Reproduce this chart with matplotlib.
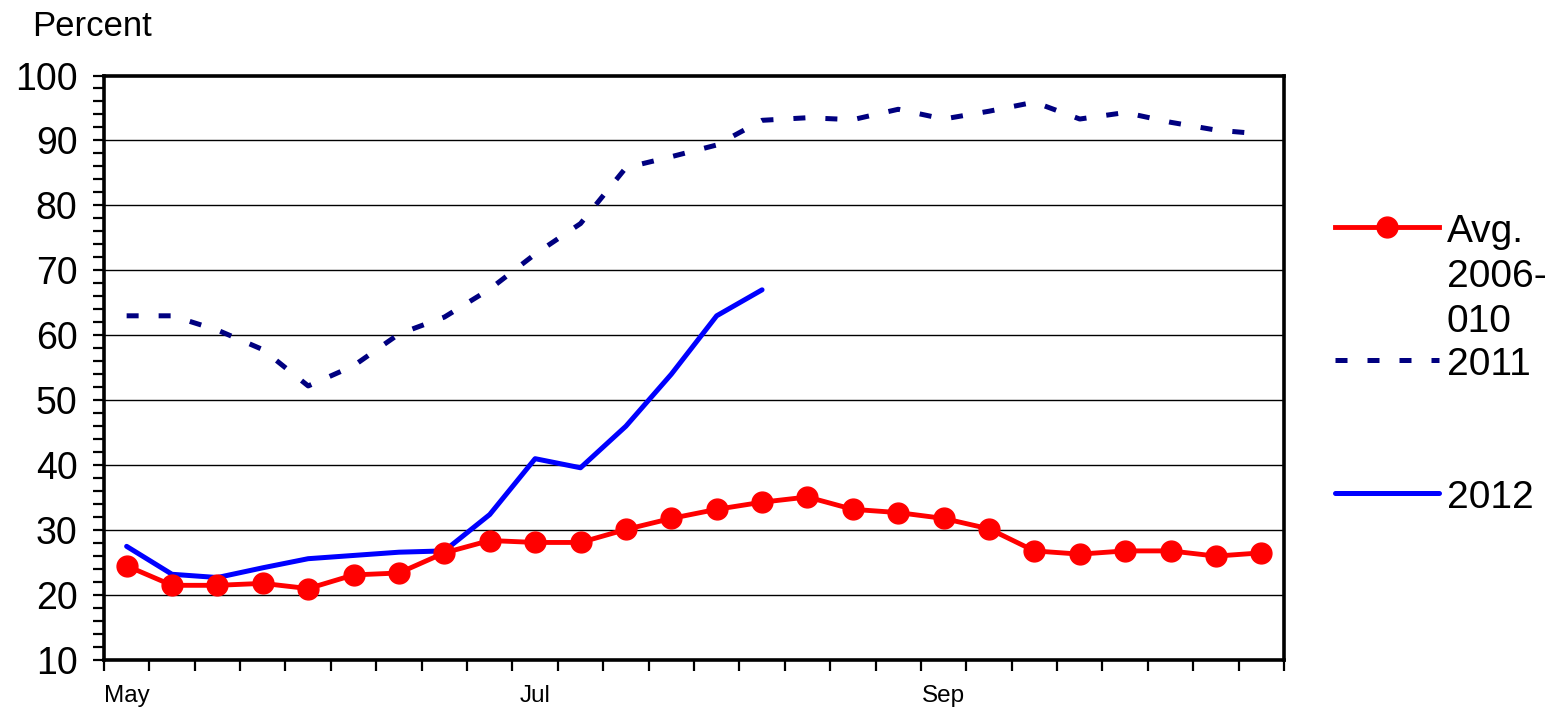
import numpy as np
import matplotlib.pyplot as plt
from matplotlib.lines import Line2D

plt.rcParams['font.family'] = ['Liberation Sans', 'DejaVu Sans']

# weekly values, May through late October (26 weeks)
avg_label = 'Avg.\n2006-\n010'
avg_0610 = [24.5, 21.5, 21.5, 21.8, 21.0, 23.1, 23.4, 26.5, 28.4, 28.1, 28.1, 30.1, 31.8,
            33.2, 34.3, 35.1, 33.2, 32.7, 31.8, 30.2, 26.8, 26.3, 26.8, 26.8, 26.0, 26.5]
y2011 = [63.0, 63.0, 60.8, 57.8, 52.2, 55.3, 60.2, 62.8, 67.1, 72.5, 77.2, 85.8, 87.5,
         89.3, 93.1, 93.5, 93.2, 94.8, 93.3, 94.5, 95.9, 93.3, 94.3, 92.8, 91.6, 91.0]
y2012 = [27.5, 23.2, 22.7, 24.2, 25.6, 26.1, 26.6, 26.8, 32.4, 41.0, 39.6, 46.0, 54.0,
         63.0, 67.0]
month_labels = ['May', 'Jul', 'Sep']
month_pos = [0, 9, 18]

fig = plt.figure(figsize=(15.56, 7.09), dpi=100)
ax = fig.add_axes([0.0668, 0.0691, 0.7584, 0.8244])

weeks = np.arange(len(avg_0610))
ax.plot(weeks, avg_0610, color='#ff0000', lw=3.5, marker='o', ms=15, zorder=3)
ax.plot(np.arange(len(y2011)), y2011, color='#000080', lw=3.6, dashes=(2.4, 4.0), zorder=2)
ax.plot(np.arange(len(y2012)), y2012, color='#0000ff', lw=3.6, solid_capstyle='round', zorder=2)

ax.set_xlim(-0.5, len(weeks) - 0.5)
ax.set_ylim(10, 100)

# horizontal gridlines
for v in range(20, 100, 10):
    ax.axhline(v, color='black', lw=1.0, zorder=1)

for s in ax.spines.values():
    s.set_linewidth(2.6)

ax.set_yticks(range(10, 101, 10))
ax.set_yticks(range(10, 101, 2), minor=True)
ax.tick_params(axis='y', which='both', direction='out', length=8, width=1.6,
               labelsize=27, pad=11)

ax.set_xticks(np.arange(-0.5, len(weeks), 1), minor=True)
ax.set_xticks(month_pos)
ax.set_xticklabels(month_labels)
ax.tick_params(axis='x', which='minor', direction='out', length=8, width=1.6)
ax.tick_params(axis='x', which='major', length=0, labelsize=17.5, pad=18)

fig.text(32 / 1556, 1 - 36 / 709, 'Percent', fontsize=25, va='baseline')

# legend drawn at the right of the plot
W, H = 1556, 709
x0, x1, xt = 1335 / W, 1439 / W, 1447 / W
entries = [
    (avg_label, 227, dict(color='#ff0000', lw=3.5, marker='o', ms=15, markevery=[1])),
    ('2011', 360, dict(color='#000080', lw=3.6, dashes=(2.4, 4.0))),
    ('2012', 493, dict(color='#0000ff', lw=3.6, solid_capstyle='round')),
]
for label, ypx, style in entries:
    yf = 1 - ypx / H
    fig.add_artist(Line2D([x0, (x0 + x1) / 2, x1], [yf, yf, yf], **style))
    for i, line in enumerate(label.split('\n')):
        fig.text(xt, 1 - (ypx + 15 + 45 * i) / H, line, fontsize=28, va='baseline')

fig.savefig('out.png', dpi=100)
